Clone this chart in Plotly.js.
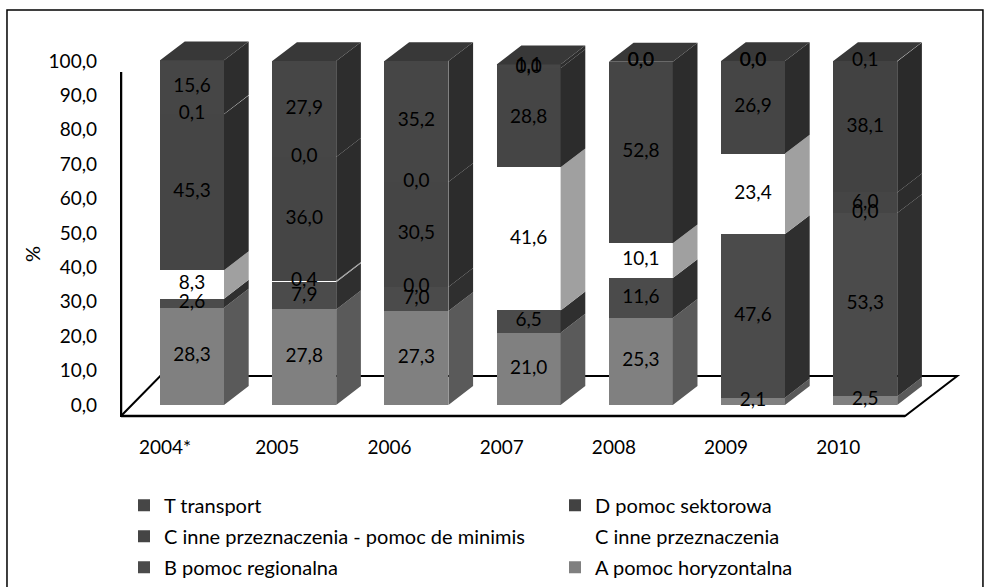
<!DOCTYPE html>
<html><head><meta charset="utf-8">
<script src="https://cdn.plot.ly/plotly-3.0.1.min.js"></script>
<style>html,body{margin:0;padding:0;background:#fff}#chart{width:990px;height:587px}</style>
</head><body><div id="chart"></div><script>
// ---- data ----
const years = ['2004*','2005','2006','2007','2008','2009','2010'];
const seriesNames = ['A pomoc horyzontalna','B pomoc regionalna','C inne przeznaczenia','C inne przeznaczenia - pomoc de minimis','D pomoc sektorowa','T transport'];
const A   = [28.3, 27.8, 27.3, 21.0, 25.3,  2.1,  2.5];
const B   = [ 2.6,  7.9,  7.0,  6.5, 11.6, 47.6, 53.3];
const C   = [ 8.3,  0.4,  0.0, 41.6, 10.1, 23.4,  0.0];
const Cdm = [45.3, 36.0, 30.5, 28.8, 52.8, 26.9,  6.0];
const D   = [ 0.1,  0.0,  0.0,  0.0,  0.0,  0.0, 38.1];
const T   = [15.6, 27.9, 35.2,  1.1,  0.0,  0.0,  0.1];
const yTicks = [0,10,20,30,40,50,60,70,80,90,100];

// ---- style ----
const series = [A, B, C, Cdm, D, T];
const frontColors = ['#808080','#4b4b4b','#ffffff','#454545','#424242','#464646'];
const sideColors  = ['#5a5a5a','#2f2f2f','#a0a0a0','#2c2c2c','#2a2a2a','#2d2d2d'];
const legendOf    = ['legend2','legend','legend2','legend','legend2','legend'];
const legendRank  = [3, 3, 2, 2, 1, 1];
const FONT = 'Lato, "Open Sans", sans-serif';
const W = 0.57, DX = 0.22, DY = 5.5;

const xs = years.map((_, i) => i);
const fmt = v => v.toFixed(1).replace('.', ',');

const traces = [];
// front faces (stacked bars)
series.forEach((vals, s) => {
  traces.push({
    type: 'bar', x: xs, y: vals, width: W, name: seriesNames[s],
    marker: {color: frontColors[s], line: {width: 0}},
    legend: legendOf[s], legendgroup: 'g' + s, legendrank: legendRank[s],
    hoverinfo: 'skip'
  });
});
// side faces + label positions
const cum = xs.map(() => 0);
const labX = [], labY = [], labT = [];
series.forEach((vals, s) => {
  const px = [], py = [];
  vals.forEach((v, i) => {
    const lo = cum[i], hi = cum[i] + v;
    if (v > 0) {
      const xr = i + W / 2;
      px.push(xr, xr + DX, xr + DX, xr, xr, null);
      py.push(lo, lo + DY, hi + DY, hi, lo, null);
    }
    labX.push(i); labY.push((lo + hi) / 2); labT.push(fmt(v));
    cum[i] = hi;
  });
  traces.push({
    type: 'scatter', mode: 'lines', x: px, y: py, fill: 'toself',
    fillcolor: sideColors[s], line: {width: 0, color: sideColors[s]},
    showlegend: false, hoverinfo: 'skip'
  });
});
// top faces
const tx = [], ty = [];
cum.forEach((top, i) => {
  const xl = i - W / 2, xr = i + W / 2;
  tx.push(xl, xl + DX, xr + DX, xr, xl, null);
  ty.push(top, top + DY, top + DY, top, top, null);
});
traces.push({
  type: 'scatter', mode: 'lines', x: tx, y: ty, fill: 'toself',
  fillcolor: '#383838', line: {width: 0, color: '#383838'},
  showlegend: false, hoverinfo: 'skip'
});
// value labels
traces.push({
  type: 'scatter', mode: 'text', x: labX, y: labY, text: labT,
  textfont: {family: FONT, size: 19, color: '#000'},
  showlegend: false, hoverinfo: 'skip', cliponaxis: false
});

// floor & axis decoration (derived from category count)
const n = years.length;
const fl = {xl: -0.633, xr: n - 1 + 0.355, fy: -3.2, by: 8.4, d: 0.35, d2: 0.465};
const floorPath = `M ${fl.xl},${fl.fy} L ${fl.xr},${fl.fy} L ${fl.xr + fl.d2},${fl.by} L ${fl.xl + fl.d},${fl.by} Z`;

const legendCommon = {
  y: -0.2705, xanchor: 'left', yanchor: 'bottom',
  orientation: 'v', traceorder: 'grouped', tracegroupgap: 2, itemwidth: 30,
  bgcolor: 'rgba(0,0,0,0)', font: {family: FONT, size: 20, color: '#000'}
};

const layout = {
  width: 990, height: 587,
  margin: {l: 120, r: 0, t: 38, b: 117},
  paper_bgcolor: '#fff', plot_bgcolor: 'rgba(0,0,0,0)',
  barmode: 'stack', separators: ', ',
  font: {family: FONT, size: 19, color: '#000'},
  xaxis: {
    range: [-0.642, 7.112], tickvals: xs.map(i => i - 0.24), ticktext: years,
    anchor: 'free', position: 0.0833,
    showgrid: false, zeroline: false, showline: false, ticks: '',
    tickfont: {family: FONT, size: 19, color: '#000'}, fixedrange: true
  },
  yaxis: {
    range: [-18.9, 106.7], tickvals: yTicks, tickformat: '.1f',
    showgrid: false, zeroline: false, showline: false, ticks: '',
    ticklabelstandoff: 22,
    tickfont: {family: FONT, size: 19, color: '#000'},
    title: {text: '%', font: {family: FONT, size: 20, color: '#000'}, standoff: 2},
    fixedrange: true
  },
  legend: Object.assign({}, legendCommon, {x: 0.0046}),
  legend2: Object.assign({}, legendCommon, {x: 0.5}),
  shapes: [
    {type: 'path', xref: 'x', yref: 'y', path: floorPath, layer: 'below',
     line: {color: '#000', width: 2}},
    {type: 'line', xref: 'x', yref: 'y', x0: fl.xl, x1: fl.xl, y0: fl.fy, y1: 96.8,
     line: {color: '#000', width: 2.5}},
    {type: 'line', xref: 'x', yref: 'y', x0: fl.xl, x1: fl.xr, y0: fl.fy, y1: fl.fy,
     line: {color: '#000', width: 2.5}},
    {type: 'rect', xref: 'paper', yref: 'paper', x0: -0.1299, x1: 0.9919, y0: -0.2778, y1: 1.0648,
     line: {color: '#000', width: 1.5}}
  ],
  showlegend: true
};

Plotly.newPlot('chart', traces, layout, {displayModeBar: false, staticPlot: true});
</script></body></html>
